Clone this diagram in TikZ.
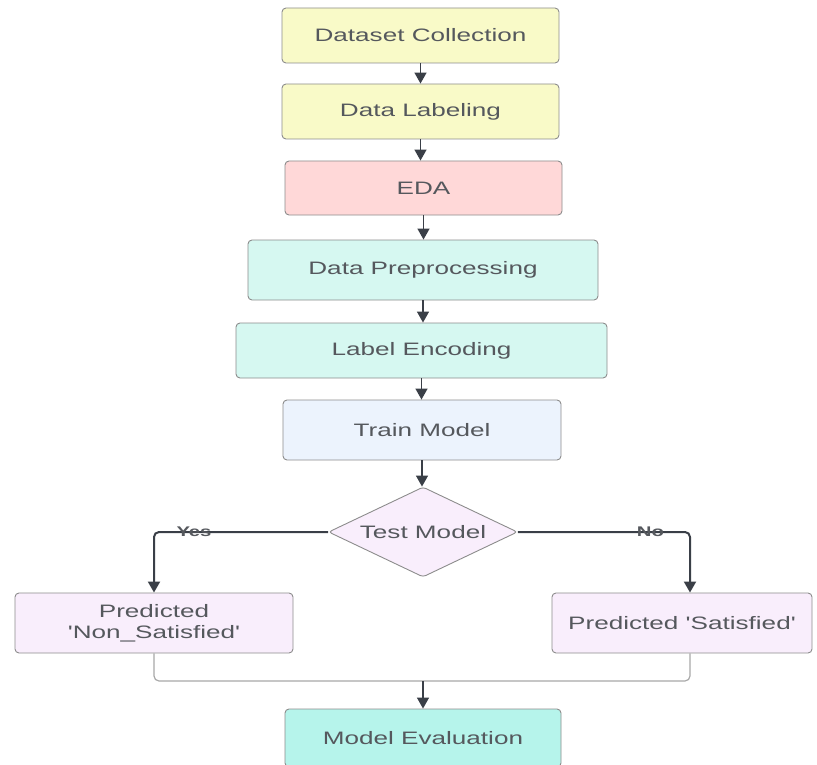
\documentclass[tikz,border=0pt]{standalone}
\usepackage{fontspec}
\usepackage{graphicx}
\setmainfont{Liberation Sans}
\usetikzlibrary{shapes.geometric,arrows.meta}

\definecolor{txt}{HTML}{55585D}
\definecolor{edge}{HTML}{8C8C8C}
\definecolor{arrowc}{HTML}{3A3F47}
\definecolor{mergec}{HTML}{A8A8A8}
\definecolor{fyellow}{HTML}{F9FAC8}
\definecolor{fpink}{HTML}{FFD8D8}
\definecolor{fmint}{HTML}{D6F8F1}
\definecolor{fblue}{HTML}{ECF3FD}
\definecolor{flav}{HTML}{F9EEFC}
\definecolor{fteal}{HTML}{B6F4EB}

% wide-set label text
\newcommand{\wt}[1]{\scalebox{1.45}[1]{#1}}

\tikzset{
  stepbox/.style={draw=edge, line width=0.9pt, rounded corners=4pt,
    text=txt, font=\fontsize{18}{22}\selectfont, align=center,
    inner sep=0pt},
  decision/.style={draw=edge, line width=0.9pt, diamond, aspect=2.1,
    rounded corners=3pt, fill=flav, text=txt,
    font=\fontsize{18}{22}\selectfont, inner sep=0pt,
    minimum width=189pt, minimum height=90pt},
  arr/.style={draw=arrowc, line width=1.5pt,
    -{Triangle[length=11pt,width=12pt]}},
  branch/.style={arr, line width=2pt, rounded corners=5pt},
  merge/.style={draw=mergec, line width=1.2pt, rounded corners=5pt},
  elabel/.style={text=txt, font=\fontsize{14}{16}\selectfont\bfseries,
    inner sep=0pt}
}

\begin{document}
\begin{tikzpicture}[x=1pt,y=-1pt]
\useasboundingbox (0,0) rectangle (817,765);

\node[stepbox, fill=fyellow, minimum width=277pt, minimum height=55pt]
  (ds) at (420.5,35.5) {\wt{Dataset Collection}};
\node[stepbox, fill=fyellow, minimum width=277pt, minimum height=55pt]
  (dl) at (420.5,111.5) {\wt{Data Labeling}};
\node[stepbox, fill=fpink, minimum width=277pt, minimum height=54pt]
  (eda) at (423.5,188) {\wt{EDA}};
\node[stepbox, fill=fmint, minimum width=350pt, minimum height=60pt]
  (pre) at (423,270) {\wt{Data Preprocessing}};
\node[stepbox, fill=fmint, minimum width=371pt, minimum height=55pt]
  (le) at (421.5,350.5) {\wt{Label Encoding}};
\node[stepbox, fill=fblue, minimum width=278pt, minimum height=60pt]
  (tm) at (422,430) {\wt{Train Model}};
\node[decision] (dia) at (423,532) {\wt{Test Model}};
\node[stepbox, fill=flav, minimum width=278pt, minimum height=60pt]
  (ns) at (154,623) {\wt{Predicted}\\[-1pt]\wt{\textquotesingle Non\_Satisfied\textquotesingle}};
\node[stepbox, fill=flav, minimum width=260pt, minimum height=60pt]
  (sat) at (682,623) {\wt{Predicted \textquotesingle Satisfied\textquotesingle}};
\node[stepbox, fill=fteal, minimum width=276pt, minimum height=58pt]
  (ev) at (423,738) {\wt{Model Evaluation}};

% main sequence
\draw[arr] (ds.south) -- (ds.south |- dl.north);
\draw[arr] (dl.south) -- (dl.south |- eda.north);
\draw[arr] (eda.south) -- (eda.south |- pre.north);
\draw[arr] (pre.south) -- (pre.south |- le.north);
\draw[arr] (le.south) -- (le.south |- tm.north);
\draw[arr] (tm.south) -- (tm.south |- dia.north);

% decision branches
\draw[branch] (dia.west) -| (ns.north)
  node[elabel, pos=0.385] {\wt{Yes}};
\coordinate (satin) at ([xshift=8pt]sat.north);
\draw[branch] (dia.east) -| (satin)
  node[elabel, pos=0.385] {\wt{No}};

% both outcomes join before evaluation
\coordinate (join) at (423,681);
\coordinate (satout) at ([xshift=8pt]sat.south);
\draw[merge] (ns.south) |- (join);
\draw[merge] (satout) |- (join);
\draw[arr] (join) -- (ev.north);
\end{tikzpicture}
\end{document}
